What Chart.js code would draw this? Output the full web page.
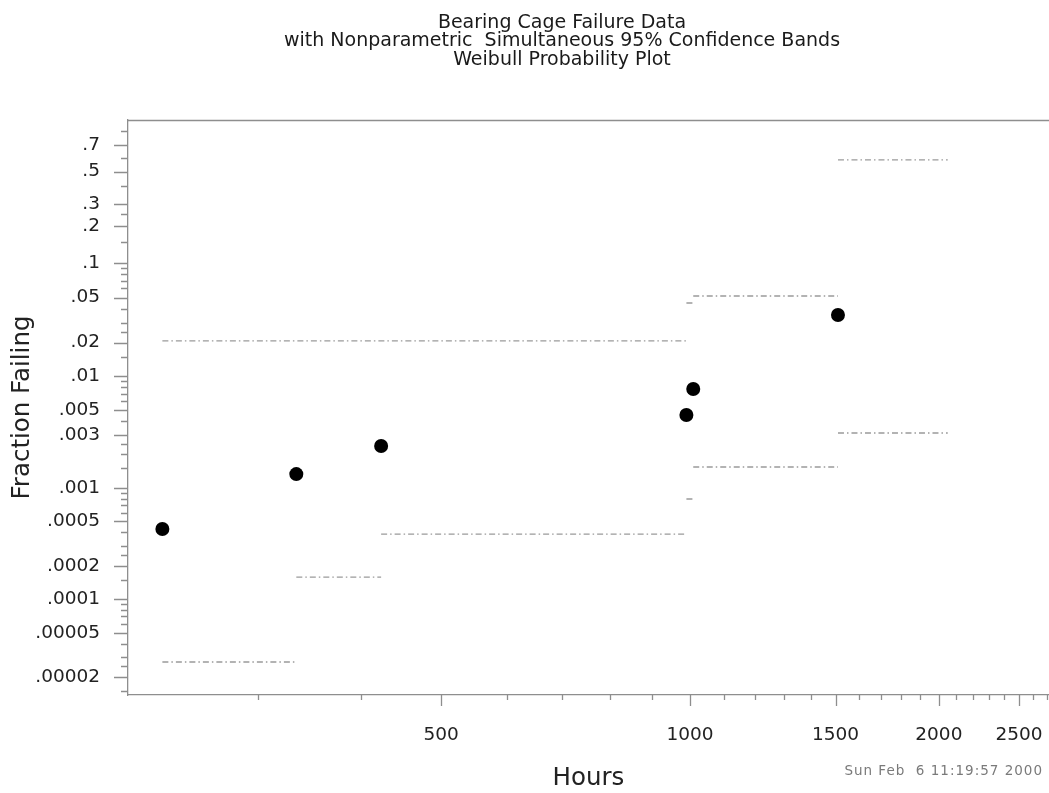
<!DOCTYPE html>
<html>
<head>
<meta charset="utf-8">
<title>Bearing Cage Failure Data</title>
<script src="https://cdn.jsdelivr.net/npm/chart.js@4.4.1/dist/chart.umd.min.js"></script>
<style>
    html, body { margin: 0; padding: 0; background: #fff; }
    #wrap { position: relative; width: 1049px; height: 793px; }
</style>
</head>
<body>
<div id="wrap"><canvas id="chart" width="1049" height="793"></canvas></div>
<script>
// Failure times (hours) and the plotted fraction failing at each
const failHours = [230, 334, 423, 990, 1009, 1510];
const failFraction = [0.000427, 0.00133, 0.00238, 0.00451, 0.00771, 0.0351];

// Simultaneous 95% bands: step edges (hours) and the level between each pair of edges
const bandHours = [230, 334, 423, 990, 1009, 1510, 2050];
const bandUpper = [0.0207, 0.0207, 0.0207, 0.0448, 0.0516, 0.587];
const bandLower = [0.0000273, 0.000158, 0.000385, 0.000795, 0.00154, 0.00311];

// Axis ticks
const xTickValues = [500, 1000, 1500, 2000, 2500];
const yTickLabels = ['.7', '.5', '.3', '.2', '.1', '.05', '.02', '.01', '.005', '.003',
    '.001', '.0005', '.0002', '.0001', '.00005', '.00002'];

const FONT = '"DejaVu Sans", "Liberation Sans", Arial, sans-serif';
const AXIS_GRAY = '#8e8e8e';
const Y_MIN_P = 0.0000138;
const Y_MAX_P = 0.867;

// Weibull probability scale: log10(-ln(1 - p))
const weib = p => Math.log10(-Math.log(1 - p));

// horizontal pieces of a step function, no vertical risers
function stepSegments(edges, levels) {
    const pts = [];
    levels.forEach((lvl, i) => {
        if (i === 0 || levels[i - 1] !== lvl) pts.push({ x: edges[i], y: weib(lvl) });
        if (levels[i + 1] !== lvl) {
            pts.push({ x: edges[i + 1], y: weib(lvl) });
            pts.push({ x: edges[i + 1], y: null });
        }
    });
    return pts;
}

const bandStyle = {
    type: 'line',
    showLine: true,
    borderColor: '#9a9a9a',
    borderWidth: 1.3,
    borderDash: [6, 3, 1.5, 3],
    pointRadius: 0,
    fill: false,
    spanGaps: false
};

// minor tick values
const xMinor = [];
for (let h = 300; h <= 2700; h += 100) {
    if (!xTickValues.includes(h)) xMinor.push(h);
}
const yMinor = [];
[1e-5, 1e-4, 1e-3, 1e-2, 1e-1].forEach(dec => {
    [1, 1.5, 2, 2.5, 3, 4, 5, 6, 7, 8, 9].forEach(d => {
        const p = d * dec;
        if (p > Y_MIN_P && p < Y_MAX_P) yMinor.push(p);
    });
});

const decorPlugin = {
    id: 'decor',
    afterDraw(chart) {
        const { ctx, chartArea: a, scales: { x, y } } = chart;
        ctx.save();
        ctx.strokeStyle = AXIS_GRAY;
        ctx.lineWidth = 1.3;

        // top frame line
        ctx.beginPath();
        ctx.moveTo(a.left, a.top + 0.5);
        ctx.lineTo(a.right, a.top + 0.5);
        ctx.stroke();

        // y ticks
        ctx.beginPath();
        yMinor.forEach(p => {
            const py = Math.round(y.getPixelForValue(weib(p))) + 0.5;
            ctx.moveTo(a.left - 7, py);
            ctx.lineTo(a.left, py);
        });
        yTickLabels.forEach(t => {
            const py = Math.round(y.getPixelForValue(weib(parseFloat(t)))) + 0.5;
            ctx.moveTo(a.left - 14, py);
            ctx.lineTo(a.left, py);
        });
        // x ticks
        xMinor.forEach(h => {
            const px = Math.round(x.getPixelForValue(h)) + 0.5;
            ctx.moveTo(px, a.bottom);
            ctx.lineTo(px, a.bottom + 5);
        });
        xTickValues.forEach(h => {
            const px = Math.round(x.getPixelForValue(h)) + 0.5;
            ctx.moveTo(px, a.bottom);
            ctx.lineTo(px, a.bottom + 11);
        });
        ctx.stroke();

        // titles
        ctx.fillStyle = '#1a1a1a';
        ctx.textAlign = 'center';
        ctx.textBaseline = 'alphabetic';
        ctx.font = '19px ' + FONT;
        ctx.fillText('Bearing Cage Failure Data', 562, 27.5);
        ctx.fillText('with Nonparametric  Simultaneous 95% Confidence Bands', 562, 46);
        ctx.fillText('Weibull Probability Plot', 562, 64.5);

        // time stamp
        ctx.fillStyle = '#7a7a7a';
        ctx.textAlign = 'right';
        ctx.font = '13.5px ' + FONT;
        ctx.letterSpacing = '1px';
        ctx.fillText('Sun Feb  6 11:19:57 2000', 1043, 775);
        ctx.restore();
    }
};

new Chart(document.getElementById('chart'), {
    type: 'scatter',
    data: {
        datasets: [
            Object.assign({ label: 'Upper band', data: stepSegments(bandHours, bandUpper) }, bandStyle),
            Object.assign({ label: 'Lower band', data: stepSegments(bandHours, bandLower) }, bandStyle),
            {
                label: 'Failures',
                data: failHours.map((h, i) => ({ x: h, y: weib(failFraction[i]) })),
                backgroundColor: '#000',
                borderWidth: 0,
                pointRadius: 7,
                pointHoverRadius: 7
            }
        ]
    },
    options: {
        responsive: false,
        animation: false,
        events: [],
        layout: { autoPadding: false, padding: { top: 120, left: 0, right: 0, bottom: 0 } },
        plugins: {
            legend: { display: false },
            title: { display: false },
            tooltip: { enabled: false }
        },
        scales: {
            x: {
                type: 'logarithmic',
                position: 'bottom',
                min: 209,
                max: 2718,
                grid: { display: false, drawTicks: false },
                border: { display: true, color: AXIS_GRAY, width: 1.3 },
                ticks: {
                    autoSkip: false,
                    maxRotation: 0,
                    padding: 29,
                    color: '#222',
                    font: { family: FONT, size: 18.5 },
                    callback: v => String(v)
                },
                afterBuildTicks: s => { s.ticks = xTickValues.map(v => ({ value: v })); },
                afterFit: s => {
                    s.height = 98;
                    s.paddingLeft = 0;
                    s.paddingRight = 0;
                },
                title: {
                    display: true,
                    text: 'Hours',
                    color: '#222',
                    font: { family: FONT, size: 24.5, lineHeight: 1 },
                    padding: { top: 0, bottom: 2 }
                }
            },
            y: {
                type: 'linear',
                min: weib(Y_MIN_P),
                max: weib(Y_MAX_P),
                grid: { display: false, drawTicks: false },
                border: { display: true, color: AXIS_GRAY, width: 1.3 },
                ticks: {
                    autoSkip: false,
                    padding: 28,
                    color: '#222',
                    font: { family: FONT, size: 18.5 },
                    callback: (v, i) => yTickLabels[i]
                },
                afterBuildTicks: s => {
                    s.ticks = yTickLabels.map(t => ({ value: weib(parseFloat(t)) }));
                },
                afterFit: s => {
                    s.width = 128;
                    s.paddingTop = 0;
                    s.paddingBottom = 0;
                },
                title: {
                    display: true,
                    text: 'Fraction Failing',
                    color: '#222',
                    font: { family: FONT, size: 24.5, lineHeight: 1 },
                    padding: { top: 10, bottom: 0 }
                }
            }
        }
    },
    plugins: [decorPlugin]
});
</script>
</body>
</html>
